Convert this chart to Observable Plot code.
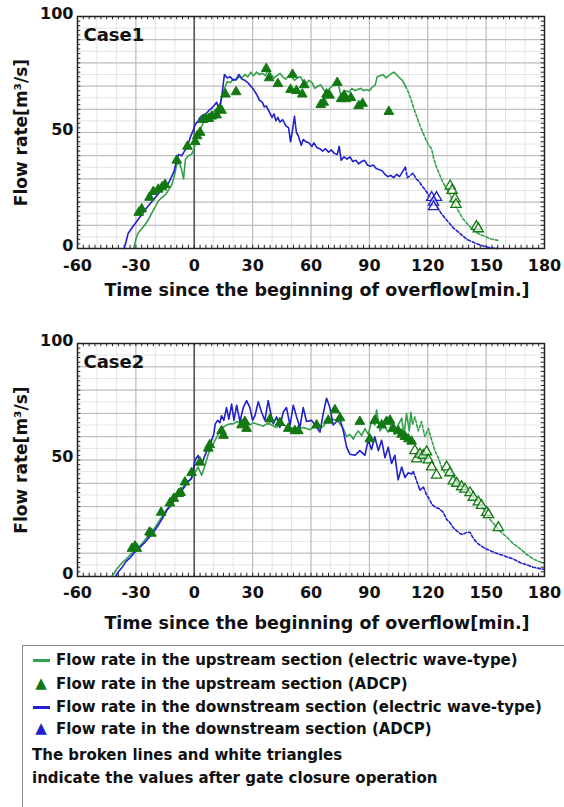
<!DOCTYPE html>
<html>
<head>
<meta charset="utf-8">
<script src="https://cdn.jsdelivr.net/npm/d3@7"></script>
<script src="https://cdn.jsdelivr.net/npm/@observablehq/plot@0.6"></script>
<style>
  html, body { margin: 0; padding: 0; background: #fff; }
  #root { position: relative; width: 564px; height: 807px; overflow: hidden; font-family: "DejaVu Sans", "Liberation Sans", Arial, sans-serif; }
  #root svg { position: absolute; left: 0; }
  #legend { position: absolute; left: 22px; top: 645px; width: 560px; height: 180px; border: 1.5px solid #8a8a8a; box-sizing: border-box; }
  .row { position: absolute; left: 0; white-space: nowrap; font-weight: bold; font-size: 15px; color: #111; line-height: 18px; }
  .sym { display: inline-block; width: 18px; margin-left: 9px; margin-right: 6px; text-align: center; vertical-align: middle; }
  .ln { display: inline-block; width: 17px; height: 3px; vertical-align: middle; }
  .tri { font-size: 15px; line-height: 15px; }
</style>
</head>
<body>
<div id="root"></div>
<script>
// ---------- tick labels / categories ----------
const xTicks = [-60, -30, 0, 30, 60, 90, 120, 150, 180];
const yTicks = [0, 50, 100];
const xLabel = "Time since the beginning of overflow[min.]";
const yLabel = "Flow rate[m³/s]";
const caseNames = ["Case1", "Case2"];
const legendItems = [
  "Flow rate in the upstream section (electric wave-type)",
  "Flow rate in the upstream section (ADCP)",
  "Flow rate in the downstream section (electric wave-type)",
  "Flow rate in the downstream section (ADCP)"
];
const legendNote = ["The broken lines and white triangles", "indicate the values after gate closure operation"];

// ---------- Case 1 series [minutes, m3/s] ----------
const case1UpLine = [[-31,0.5],[-30,4],[-29,6.5],[-27,8.5],[-25.5,10],[-23.5,12.5],[-22,15],[-20,18],[-18.5,20.5],[-16.5,22],[-14.5,23.5],[-13,25.5],[-11.5,27.5],[-10,32],[-9,36.5],[-7.5,36.5],[-6.5,34],[-5.5,30],[-4.5,38.5],[-3,40],[-1.5,40.5],[0,43],[1,49],[2,50],[3,51.5],[4,53],[5,55],[6.5,56],[8,57],[9.5,58.5],[11,60],[12.5,61],[13.5,63],[14.5,66],[16,70],[17,72],[18.5,71.5],[20,73],[21.5,72.5],[23,74],[24.5,73.5],[26,75],[27.5,74],[29,76],[30.5,74.5],[32,76],[33.5,75],[35,75.5],[36.5,74.5],[38,77],[39.5,75],[41,73.5],[42.5,74.5],[44,75.5],[45.5,74],[47,73],[48.5,74.5],[50,74],[51.5,72.5],[53,73.5],[54.5,74],[56,72],[57.5,71],[59,72.5],[60.5,71.5],[62,69],[63.5,70],[65,70.5],[66.5,68.5],[68,67],[69.5,69],[71,70],[72.5,70.5],[74,71.5],[75,67],[76.5,66.5],[78,68],[79.5,67.5],[81,69],[82.5,68],[84,68.5],[85.5,69],[87,68],[88.5,68.5],[90,68],[91.5,69.5],[93,70.5],[94,74],[95.5,74.5],[97,75],[98.5,73.5],[100,74.5],[101.5,75.5],[102.5,76],[104,75],[105.5,73.5],[107,72.5],[108.5,70]];
const case1UpAfter = [[108.5,70],[110,67.5],[111.5,64],[113,60],[114.5,56.5],[116,53],[117.5,50],[119,47],[120.5,44.5],[122,43],[123,39],[124.5,35],[126,32],[127.5,29],[129.5,26],[131.5,23],[133.5,20],[135.5,16.5],[138,13],[141,10],[144,7.5],[147,6],[150,5],[153,4],[156,3.5]];
const case1DownLine = [[-36,0],[-35,3],[-34,6.5],[-31.5,9.5],[-28,13.5],[-24,18],[-20,22],[-16.5,25.5],[-13,28.5],[-10.5,33],[-9,38],[-8,40.5],[-6.5,40],[-5,42],[-3.5,44],[-2,48],[-0.5,51],[0.5,53.5],[2,55],[3,56.5],[4.5,57.5],[6,58],[7.5,59.5],[9,60.5],[10.5,62],[11.5,63],[12.5,60.5],[13.5,62],[14.5,68],[15.5,75],[17,73.5],[18.5,74],[20,72.5],[21.5,73],[23,75],[24.5,73],[26,72.5],[27.5,71.5],[29,70],[30.5,68.5],[32,66.5],[33.5,64],[35,63],[36,61],[37,61.5],[38.5,59],[40,56.5],[41,58],[42,55],[43,56.5],[44,54.5],[45.5,55.5],[47,53],[48.5,52],[49.5,46],[50.5,51],[51.5,57],[52.5,50],[53.5,48.5],[55,44.5],[56,47],[57.5,46],[59,45.5],[60.5,44],[61.5,45.5],[63,43.5],[64.5,43],[66,42],[67.5,43],[69,41.5],[70.5,42.5],[72,41],[73.5,40.5],[74.5,44],[75.5,38],[77,39.5],[78.5,38.5],[80,39.5],[81.5,37.5],[83,38],[84.5,36.5],[86,37.5],[87.5,38],[89,36],[90.5,35.5],[92,36],[93.5,34.5],[95,34],[96.5,33.5],[98,32],[99.5,31],[101,31.5],[102.5,30.5],[104,32],[105.5,31],[107,33],[108.5,35]];
const case1DownAfter = [[108.5,35],[109.5,30.5],[111,31.5],[112.5,32.5],[114,30],[115.5,29],[117,27],[118.5,25.5],[120.5,23],[122.5,21],[124.5,18.5],[127,15],[130,12],[133,9],[136.5,6.5],[140,4],[144,2.5],[148,1.2],[152,0.3],[156,0]];
const case1UpADCP = [[-28.5,15.5],[-27,17],[-23,22],[-21,24.5],[-18.5,25.5],[-16.5,26.5],[-15,27.5],[-9,38],[-3.5,44],[0.5,46],[1.5,48.5],[3,50],[4.5,55.5],[6,56],[7.5,56],[9,57],[11.5,57.5],[13,60],[14,59.5],[16,66.5],[21.5,67.5],[37,77.5],[38.5,73.5],[43,71],[50.5,75],[49.5,68.5],[52.5,68],[55.5,66.5],[56.5,70.5],[65,62],[66.5,63],[68,66.5],[69.5,66],[73.5,71.5],[75.5,64.5],[77,66],[78,64.5],[80.5,65],[84.5,61.5],[86.5,62.5],[100,59]];
const case1UpADCPAfter = [[131.5,27],[132.5,25],[134,21.5],[134.5,19],[145,9.5],[146,8.5]];
const case1DownADCPAfter = [[122,22],[124.5,22],[123,20],[123,18]];

// ---------- Case 2 series [minutes, m3/s] ----------
const case2UpLine = [[-42.5,0],[-41,1.5],[-40,3],[-37.5,5.5],[-35,7.5],[-31.5,10.5],[-28,13],[-24.5,16.5],[-21,20],[-17.5,24.5],[-14,29],[-11,32],[-7.5,37],[-4.5,39.5],[-1.5,42],[0.3,44.5],[2,47],[3,45],[3.8,43.5],[5.5,47.5],[7.2,52.5],[8.5,55],[9.8,57],[11,59],[12.3,61],[13.6,63],[14.9,64],[16.5,65],[18.3,65.5],[20,65.5],[21.8,66.5],[23.5,66],[25.2,67],[27,66],[28.6,65],[30.3,66],[32,65.5],[33.8,65],[35.5,64.5],[37.2,65.5],[38.9,65.5],[40.6,64.5],[42.3,64],[44,65],[45.7,65],[47.5,64.5],[49.2,64],[51,63.5],[52.6,63],[54.3,63.5],[56,64],[57.7,63.5],[59.4,63],[61.2,64],[62.9,64],[64.6,63.5],[66.3,64.5],[68,66.5],[69.7,67],[71.4,67.5],[73,67],[74,66.5],[75.3,65],[76.6,63.5],[78.3,60],[80,61],[81.7,59],[83,61],[84.3,62.5],[86,60.5],[87.7,63.5],[89.4,61],[91.1,66.5],[92.8,65],[93.7,71.5],[95.4,62.5],[96.7,64],[98,64],[99.7,62],[101.4,65.5],[103.1,61],[104.8,65],[106.6,68],[107.8,61],[109.1,70],[110.5,62.5],[111.3,70.5],[112.2,65.5]];
const case2UpAfter = [[112.2,65.5],[113.4,68.5],[115.1,62.5],[116.8,66.5],[118.5,60],[120.3,63.5],[122,58.5],[123.7,54],[125.4,51],[127.1,47],[128.8,44.5],[130.5,43.5],[132.3,45],[134,41],[136.5,39.5],[139.1,38.5],[141.7,35.5],[144.2,33.5],[146.8,31],[148.5,29],[150.3,27],[152,24.5],[154.5,22],[157.1,19.5],[160.5,17],[164,14],[167.4,12],[170.8,9.5],[174.2,7.5],[177,6.5],[180,5.5]];
const case2DownLine = [[-40.5,0],[-39,2],[-37,4],[-35,6.5],[-33,8],[-30,11],[-28,12.5],[-25.5,14.5],[-23,17],[-21,19],[-18.5,22],[-16,25.5],[-14,28.5],[-12,30.5],[-10,33],[-7.5,35.5],[-5,38.5],[-3,41],[-1.5,42],[-0.5,46],[0.5,50],[2,52],[3,50],[4,48.5],[5.5,52],[7,55],[8.5,57.5],[10,61],[10.8,65.5],[12,67],[13.2,66],[14,69],[15.2,67],[16.6,72.5],[17.8,67.5],[19.2,74],[20.4,67],[21.8,73.5],[23.5,66.5],[25.2,72.5],[26.9,75.5],[28.6,72.5],[30,67],[31.2,69],[32.9,75],[34.6,70.5],[36.3,67],[38,75.5],[39.2,70.5],[40.6,65.5],[42.3,68.5],[44,64],[45.7,70.5],[47.4,72.5],[49.2,65],[50.9,73.5],[52.6,68.5],[54.3,64],[56,72.5],[57.7,66.5],[60.3,67],[62.9,64],[64.6,62],[66.3,70],[68,76.5],[69.7,72.5],[71.4,65],[73.2,66.5],[74.9,67.5],[76.6,62.5],[78.3,55.5],[80,52.5],[82.6,52],[85.1,54],[87.7,52],[89.4,58.5],[91.1,54.5],[92.8,60],[94.6,54],[96.3,58.5],[98,51],[99.7,55.5],[101.4,48.5],[103.1,52],[104.8,41.5],[106.6,47],[108.3,42.5],[110,44.5],[111.7,44],[112.6,45]];
const case2DownAfter = [[112.6,45],[114.3,41],[116,37],[117.7,38.5],[119.4,35],[121,33],[122,31],[124.5,29.5],[126,29],[128,27.5],[129.7,24.5],[131.5,23],[133.1,21],[135,19.5],[136.5,18.5],[138,18],[140,19],[141.7,19],[143,17],[144.2,15.5],[146,14],[148.5,12.5],[151,11.5],[153.7,10.5],[157,9.5],[160.5,8.5],[164,7.5],[167.4,6],[171,5],[174.2,4],[177,3.5],[180,3]];
const case2UpADCP = [[-32,12],[-30.5,13],[-29.5,12],[-23,19],[-22,18.5],[-17,27.5],[-12.5,31.5],[-10.5,33.5],[-8,35.5],[-7,36],[-4.8,40.5],[-1.4,44.5],[2.9,49],[7.2,55],[8,56.5],[14,62.5],[15,60.5],[24.3,65],[26,66.5],[26.9,63.5],[38.9,67.5],[44,66],[48.3,63.5],[51.7,62.5],[53.5,62.5],[62.9,65],[68.9,67],[72.3,71.5],[74.9,68],[85.1,66.5],[90.2,59],[92.8,67],[96.3,65],[98.8,66.5],[100.6,67],[102.3,63.5],[104.8,62.5],[106.6,61],[108.3,60],[110,59],[111.7,58]];
const case2UpADCPAfter = [[113.4,54],[114.3,50.5],[116,52.5],[117.7,52],[119.4,53.5],[120.3,50],[122,47],[124.5,43.5],[129.7,47],[131.4,44.5],[133.1,41],[134.9,40],[137.4,38.5],[139.1,37.5],[141.7,36],[143.4,34],[146,32],[147.6,30.5],[150.3,27.5],[151.2,26.5],[156.3,21]];
const case2DownADCPAfter = [];

// ---------- styling ----------
const GREEN_LINE = "#33a04c";
const GREEN_TRI = "#127812";
const BLUE = "#2020cc";
const FONT = "'DejaVu Sans', 'Liberation Sans', Arial, sans-serif";

function panel(cfg) {
  const xMinor = d3.range(-60, 181, 3);
  const xMajor = d3.range(-60, 181, 30);
  const yMinor = d3.range(0, 101, 2);
  const yMajor = d3.range(0, 101, 10);
  const T = d => d[0], Q = d => d[1];
  return Plot.plot({
    width: 564,
    height: cfg.height,
    marginTop: cfg.mt,
    marginBottom: cfg.mb,
    marginLeft: 77,
    marginRight: 20,
    style: { fontFamily: FONT, background: "transparent", color: "#111", overflow: "visible" },
    x: { domain: [-60, 180] },
    y: { domain: [0, 100] },
    marks: [
      Plot.gridX(d3.range(-60, 181, 10), { stroke: "#e4e4e4", strokeOpacity: 1 }),
      Plot.gridY(d3.range(0, 101, 5), { stroke: "#e4e4e4", strokeOpacity: 1 }),
      Plot.gridX(xMajor, { stroke: "#b8b8b8", strokeOpacity: 1 }),
      Plot.gridY(yMajor, { stroke: "#b8b8b8", strokeOpacity: 1 }),
      Plot.ruleX([0], { stroke: "#555", strokeWidth: 1.6 }),
      // frame ticks (inward)
      Plot.ruleX(xMinor, { x: d => d, y1: 0, y2: 1.4, stroke: "#222", strokeWidth: 1 }),
      Plot.ruleX(xMinor, { x: d => d, y1: 100, y2: 98.6, stroke: "#222", strokeWidth: 1 }),
      Plot.ruleY(yMinor, { y: d => d, x1: -60, x2: -58.3, stroke: "#222", strokeWidth: 1 }),
      Plot.ruleY(yMinor, { y: d => d, x1: 180, x2: 178.3, stroke: "#222", strokeWidth: 1 }),
      // series
      Plot.line(cfg.upAfter, { x: T, y: Q, stroke: GREEN_LINE, strokeWidth: 1.6, strokeDasharray: "3,2" }),
      Plot.line(cfg.downAfter, { x: T, y: Q, stroke: BLUE, strokeWidth: 1.6, strokeDasharray: "3,2" }),
      Plot.line(cfg.upLine, { x: T, y: Q, stroke: GREEN_LINE, strokeWidth: 1.6 }),
      Plot.line(cfg.downLine, { x: T, y: Q, stroke: BLUE, strokeWidth: 1.6 }),
      Plot.dot(cfg.upADCP, { x: T, y: Q, symbol: "triangle", r: 3.6, fill: GREEN_TRI, stroke: GREEN_TRI, strokeWidth: 1 }),
      Plot.dot(cfg.upADCPAfter, { x: T, y: Q, symbol: "triangle", r: 3.8, fill: "white", fillOpacity: 0.6, stroke: GREEN_TRI, strokeWidth: 1.3 }),
      Plot.dot(cfg.downADCPAfter, { x: T, y: Q, symbol: "triangle", r: 3.8, fill: "white", fillOpacity: 0.6, stroke: BLUE, strokeWidth: 1.3 }),
      Plot.frame({ stroke: "#222", strokeWidth: 1.5 }),
      // axes
      Plot.axisX(xTicks, { tickSize: 0, tickPadding: cfg.xPad, tickFormat: d => String(d), fontSize: 16, fontWeight: "bold", label: null }),
      Plot.axisY(yTicks, { tickSize: 0, tickPadding: 4, dy: -3, tickFormat: d => String(d), fontSize: 16, fontWeight: "bold", label: null }),
      Plot.text([xLabel], { frameAnchor: "bottom", dx: 6, dy: cfg.titleDy, lineAnchor: "middle", fontSize: 17.5, fontWeight: "bold", fill: "#111" }),
      Plot.text([yLabel], { frameAnchor: "left", dx: -56, rotate: -90, textAnchor: "middle", lineAnchor: "middle", fontSize: 17, fontWeight: "bold", fill: "#111" }),
      Plot.text([cfg.name], { frameAnchor: "top-left", dx: 6, dy: 12, textAnchor: "start", lineAnchor: "top", fontSize: 18, fontWeight: "bold", fill: "#111" })
    ]
  });
}

const root = document.getElementById("root");
const p1 = panel({ name: caseNames[0], height: 300, mt: 16, mb: 52, xPad: 11, titleDy: 42,
  upLine: case1UpLine, upAfter: case1UpAfter, downLine: case1DownLine, downAfter: case1DownAfter,
  upADCP: case1UpADCP, upADCPAfter: case1UpADCPAfter, downADCPAfter: case1DownADCPAfter });
p1.style.top = "0px";
root.appendChild(p1);
const p2 = panel({ name: caseNames[1], height: 320, mt: 23, mb: 64, xPad: 10, titleDy: 47,
  upLine: case2UpLine, upAfter: case2UpAfter, downLine: case2DownLine, downAfter: case2DownAfter,
  upADCP: case2UpADCP, upADCPAfter: case2UpADCPAfter, downADCPAfter: case2DownADCPAfter });
p2.style.top = "320px";
root.appendChild(p2);

// legend
const legend = document.createElement("div");
legend.id = "legend";
const syms = [
  `<span class="sym"><span class="ln" style="background:${GREEN_LINE}"></span></span>`,
  `<span class="sym tri" style="color:${GREEN_TRI}">▲</span>`,
  `<span class="sym"><span class="ln" style="background:${BLUE}"></span></span>`,
  `<span class="sym tri" style="color:${BLUE}">▲</span>`
];
const rowTops = [4, 28, 51, 73];
legendItems.forEach((t, i) => {
  const r = document.createElement("div");
  r.className = "row";
  r.style.top = rowTops[i] + "px";
  r.innerHTML = syms[i] + `<span style="vertical-align:middle">${t}</span>`;
  legend.appendChild(r);
});
legendNote.forEach((t, i) => {
  const r = document.createElement("div");
  r.className = "row";
  r.style.top = (100 + i * 23) + "px";
  r.style.left = "9px";
  r.textContent = t;
  legend.appendChild(r);
});
root.appendChild(legend);
</script>
</body>
</html>
